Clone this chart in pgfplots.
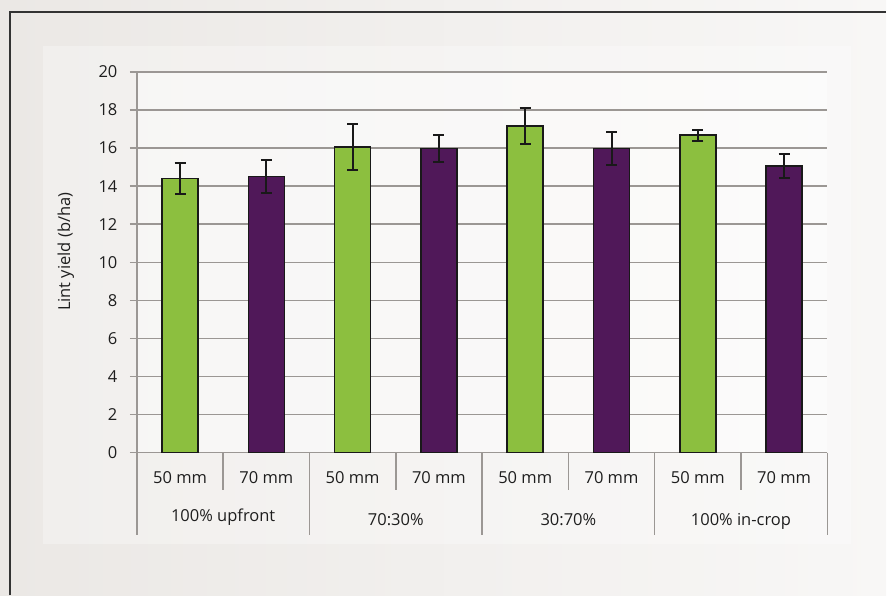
\documentclass[border=0pt]{standalone}
\usepackage{fontspec}
\setmainfont{Open Sans}
\usepackage{pgfplots}
\pgfplotsset{compat=1.18}
\definecolor{bargreen}{HTML}{8CBF3F}
\definecolor{barpurple}{HTML}{501859}
\definecolor{gridgray}{HTML}{9B9794}
\definecolor{bgleft}{HTML}{EBE8E5}
\definecolor{bgright}{HTML}{F8F7F6}
\definecolor{txt}{HTML}{1E1E1E}
\newcommand{\lab}{\fontsize{16.5}{20}\selectfont}
\begin{document}
\begin{tikzpicture}[x=1pt,y=1pt]
\shade[left color=bgleft, right color=bgright] (0,0) rectangle (887,596);
\fill[white,opacity=0.3] (43,52) rectangle (852,550);
\fill[white,opacity=0.45] (137,143) rectangle (828,524);
\draw[line width=1.6pt, color=black!80] (10,0) -- (10,584) -- (887,584);
\begin{axis}[
  at={(137pt,143pt)}, anchor=south west,
  scale only axis, width=691pt, height=381pt,
  clip=false,
  xmin=-0.5, xmax=7.5, ymin=0, ymax=20,
  ytick={0,2,...,20}, xtick=\empty,
  axis lines*=left,
  axis line style={gridgray, line width=1.5pt},
  ymajorgrids, grid style={gridgray, line width=1.5pt},
  tick align=outside, major tick length=7pt,
  tick style={gridgray, line width=1.5pt},
  y tick label style={font=\lab, color=txt, xshift=-9pt},
  /pgf/number format/assume math mode=true,
  bar width=0.417, bar shift=0pt,
]
\addplot[ybar, fill=bargreen, draw=black!90, line width=1.5pt,
  error bars/.cd, y dir=both, y explicit,
  error bar style={black!90, line width=2pt},
  error mark options={rotate=90, mark size=5.5pt, line width=2pt, black!90}]
  coordinates {(0,14.4) +- (0,0.80) (2,16.06) +- (0,1.19) (4,17.15) +- (0,0.93) (6,16.68) +- (0,0.29)};
\addplot[ybar, fill=barpurple, draw=black!90, line width=1.5pt,
  error bars/.cd, y dir=both, y explicit,
  error bar style={black!90, line width=2pt},
  error mark options={rotate=90, mark size=5.5pt, line width=2pt, black!90}]
  coordinates {(1,14.5) +- (0,0.87) (3,15.98) +- (0,0.70) (5,15.97) +- (0,0.88) (7,15.06) +- (0,0.65)};
% category separators
\foreach \k in {0.5,2.5,4.5,6.5} {
  \edef\tmp{\noexpand\draw[gridgray, line width=1.5pt] (axis cs:\k,0) -- ++(0pt,-37pt);}\tmp
}
\foreach \k in {-0.5,1.5,3.5,5.5,7.5} {
  \edef\tmp{\noexpand\draw[gridgray, line width=1.5pt] (axis cs:\k,0) -- ++(0pt,-82pt);}\tmp
}
\foreach \k in {0,2,4,6} {
  \edef\tmp{\noexpand\node[anchor=base, font=\noexpand\lab, text=txt, yshift=-31pt] at (axis cs:\k,0) {50 mm};}\tmp
}
\foreach \k in {1,3,5,7} {
  \edef\tmp{\noexpand\node[anchor=base, font=\noexpand\lab, text=txt, yshift=-31pt] at (axis cs:\k,0) {70 mm};}\tmp
}
\node[anchor=base, font=\lab, text=txt, yshift=-69pt] at (axis cs:0.5,0) {100\% upfront};
\node[anchor=base, font=\lab, text=txt, yshift=-73pt] at (axis cs:2.5,0) {70:30\%};
\node[anchor=base, font=\lab, text=txt, yshift=-73pt] at (axis cs:4.5,0) {30:70\%};
\node[anchor=base, font=\lab, text=txt, yshift=-73pt] at (axis cs:6.5,0) {100\% in-crop};
\end{axis}
\node[rotate=90, font=\lab, text=txt] at (66,344) {Lint yield (b/ha)};
\end{tikzpicture}
\end{document}
